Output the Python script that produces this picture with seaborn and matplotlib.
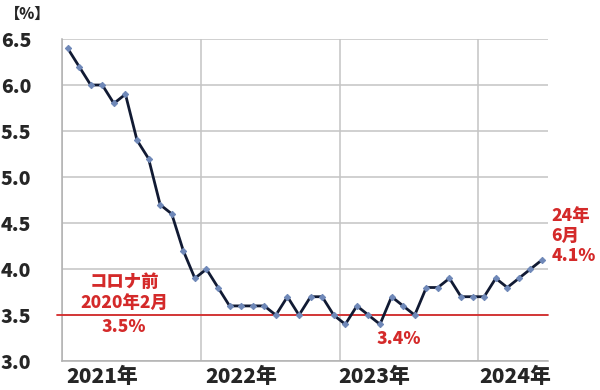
import matplotlib
matplotlib.use("Agg")
import matplotlib.pyplot as plt
import seaborn as sns
import pandas as pd
import numpy as np

# ---- data ----
years = [2021, 2022, 2023, 2024]
rate_2021 = [6.4, 6.2, 6.0, 6.0, 5.8, 5.9, 5.4, 5.2, 4.7, 4.6, 4.2, 3.9]
rate_2022 = [4.0, 3.8, 3.6, 3.6, 3.6, 3.6, 3.5, 3.7, 3.5, 3.7, 3.7, 3.5]
rate_2023 = [3.4, 3.6, 3.5, 3.4, 3.7, 3.6, 3.5, 3.8, 3.8, 3.9, 3.7, 3.7]
rate_2024 = [3.7, 3.9, 3.8, 3.9, 4.0, 4.1]
pre_covid = 3.5
year_labels = ["2021年", "2022年", "2023年", "2024年"]
y_ticks = [3.0, 3.5, 4.0, 4.5, 5.0, 5.5, 6.0, 6.5]

rates = rate_2021 + rate_2022 + rate_2023 + rate_2024
df = pd.DataFrame({"month": np.arange(len(rates)), "rate": rates})

sns.set_style("white")
plt.rcParams["font.family"] = ["Noto Sans CJK JP", "DejaVu Sans"]

W = 900  # heavier weight

fig = plt.figure(figsize=(6, 3.9), dpi=100)
ax = fig.add_axes([0.103, 0.074, 0.81, 0.826])

sns.lineplot(data=df, x="month", y="rate", ax=ax, color="#111a33", lw=2.0,
             marker="D", markersize=3.2, markerfacecolor="#6f88b8",
             markeredgecolor="#6f88b8", zorder=4)

red = "#d42a2a"
ax.axhline(pre_covid, xmin=-0.01, xmax=1.0, color=red, lw=1.3, clip_on=False, zorder=3)

ax.set_xlim(-0.5, len(rates) - 0.5)
ax.set_ylim(3.0, 6.5)
ax.set_yticks(y_ticks)
ax.set_yticklabels([f"{v:.1f}" for v in y_ticks], fontsize=14, fontweight=W)
bounds = [12 * i - 0.5 for i in range(len(years))]
ax.set_xticks(bounds, minor=True)
ax.set_xticks([3.0, 15.0, 26.5, 38.7])
ax.set_xticklabels(year_labels, fontsize=15, fontweight=W)
ax.tick_params(axis="both", which="both", length=0)
ax.tick_params(axis="y", pad=22)
ax.tick_params(axis="x", pad=4)
ax.set_xlabel("")
ax.set_ylabel("")

ax.grid(True, axis="y", which="major", color="#c4c4c4", lw=1.1)
ax.grid(True, axis="x", which="minor", color="#c4c4c4", lw=1.1)
ax.grid(False, axis="x", which="major")
for s in ["top", "right"]:
    ax.spines[s].set_visible(False)
for s in ["left", "bottom"]:
    ax.spines[s].set_color("#b0b0b0")
    ax.spines[s].set_linewidth(1.1)

fig.text(0.008, 0.962, "【%】", fontsize=11, fontweight=W, ha="left", va="center")

fs = 12.5
ax.text(4.9, 3.86, "コロナ前", color=red, fontsize=fs, fontweight=W, ha="center", va="center")
ax.text(4.9, 3.63, "2020年2月", color=red, fontsize=fs, fontweight=W, ha="center", va="center")
ax.text(4.9, 3.37, "3.5%", color=red, fontsize=fs, fontweight=W, ha="center", va="center")
ax.text(28.6, 3.24, "3.4%", color=red, fontsize=fs, fontweight=W, ha="center", va="center")
ax.text(41.8, 4.36, "24年\n6月\n4.1%", color=red, fontsize=fs, fontweight=W,
        ha="left", va="center", linespacing=1.15, clip_on=False)

fig.savefig("out.png", dpi=100, facecolor="white")
